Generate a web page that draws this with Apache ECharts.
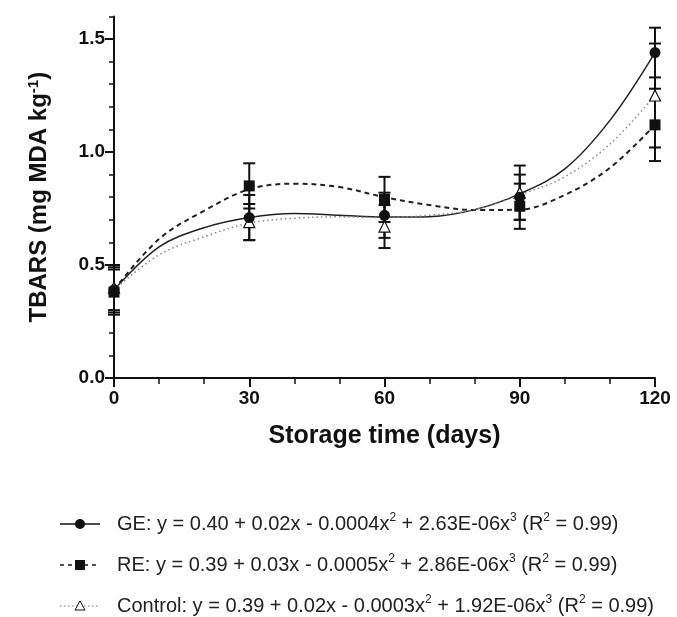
<!DOCTYPE html>
<html>
<head>
<meta charset="utf-8">
<script src="https://cdn.jsdelivr.net/npm/echarts@6/dist/echarts.min.js"></script>
<style>html,body{margin:0;padding:0;background:#fff}#c{width:677px;height:617px}</style>
</head>
<body>
<div id="c"></div>
<script>
// Measured days
const days = [0, 30, 60, 90, 120];
// Means and error-bar half-widths
const geMean = [0.39, 0.71, 0.72, 0.80, 1.44];
const geErr  = [0.10, 0.10, 0.10, 0.10, 0.11];
const reMean = [0.38, 0.85, 0.79, 0.76, 1.12];
const reErr  = [0.10, 0.10, 0.10, 0.10, 0.16];
const ctMean = [0.40, 0.69, 0.67, 0.82, 1.25];
const ctErr  = [0.10, 0.08, 0.095, 0.12, 0.23];
// Fitted curves, every 10 days
const curveDays = [0, 10, 20, 30, 40, 50, 60, 70, 80, 90, 100, 110, 120];
const geCurve = [0.39, 0.58, 0.665, 0.71, 0.728, 0.72, 0.712, 0.714, 0.745, 0.815, 0.925, 1.14, 1.44];
const reCurve = [0.39, 0.615, 0.74, 0.835, 0.86, 0.845, 0.80, 0.765, 0.743, 0.745, 0.81, 0.93, 1.12];
const ctCurve = [0.39, 0.545, 0.625, 0.685, 0.707, 0.713, 0.71, 0.72, 0.745, 0.81, 0.89, 1.035, 1.25];
// Axis ticks
const xMajor = [0, 30, 60, 90, 120];
const yMajor = [0, 0.5, 1.0, 1.5];

const pair = (xs, ys) => xs.map((x, i) => [x, ys[i]]);
const triple = (xs, ys, es) => xs.map((x, i) => [x, ys[i], es[i]]);

const ink = '#111';
function renderErr(params, api) {
  const x = api.value(0), y = api.value(1), e = api.value(2);
  const t = api.coord([x, y + e]), b = api.coord([x, y - e]);
  const hw = 6;
  const st = { stroke: ink, lineWidth: 2 };
  return { type: 'group', children: [
    { type: 'line', shape: { x1: t[0], y1: t[1], x2: b[0], y2: b[1] }, style: st },
    { type: 'line', shape: { x1: t[0] - hw, y1: t[1], x2: t[0] + hw, y2: t[1] }, style: st },
    { type: 'line', shape: { x1: b[0] - hw, y1: b[1], x2: b[0] + hw, y2: b[1] }, style: st }
  ]};
}

const font = '"Liberation Sans", Arial, sans-serif';
const chart = echarts.init(document.getElementById('c'), null, { renderer: 'canvas' });

const legendRows = [
  { y: 524, line: { color: '#111', w: 1.5, dash: null }, sym: 'circle',
    text: ['GE: y = 0.40 + 0.02x - 0.0004x', '2', ' + 2.63E-06x', '3', ' (R', '2', ' = 0.99)'] },
  { y: 565, line: { color: '#111', w: 1.5, dash: [4, 4] }, sym: 'rect',
    text: ['RE: y = 0.39 + 0.03x - 0.0005x', '2', ' + 2.86E-06x', '3', ' (R', '2', ' = 0.99)'] },
  { y: 606, line: { color: '#777', w: 1.2, dash: [1.5, 2.5] }, sym: 'triangle',
    text: ['Control: y = 0.39 + 0.02x - 0.0003x', '2', ' + 1.92E-06x', '3', ' (R', '2', ' = 0.99)'] }
];
function richText(parts) {
  return parts.map((p, i) => i % 2 === 1 ? '{s|' + p + '}' : '{n|' + p + '}').join('');
}
const graphics = [];
legendRows.forEach(r => {
  graphics.push({ type: 'line', shape: { x1: 60, y1: r.y, x2: 100, y2: r.y },
    style: { stroke: r.line.color, lineWidth: r.line.w, lineDash: r.line.dash } });
  if (r.sym === 'circle') graphics.push({ type: 'circle', shape: { cx: 80, cy: r.y, r: 5 }, style: { fill: '#111' } });
  if (r.sym === 'rect') graphics.push({ type: 'rect', shape: { x: 75, y: r.y - 5, width: 10, height: 10 }, style: { fill: '#111' } });
  if (r.sym === 'triangle') graphics.push({ type: 'polygon', shape: { points: [[80, r.y - 5], [75, r.y + 4], [85, r.y + 4]] }, style: { fill: '#fff', stroke: '#111', lineWidth: 1 } });
  graphics.push({ type: 'text', x: 117, y: r.y, style: {
    text: richText(r.text), verticalAlign: 'middle', align: 'left',
    rich: {
      n: { fontFamily: font, fontSize: 20, fill: '#222', height: 24, lineHeight: 24 },
      s: { fontFamily: font, fontSize: 12, fill: '#222', verticalAlign: 'top', padding: [0, 0, 10, 0] }
    }
  }});
});

chart.setOption({
  animation: false,
  backgroundColor: '#fff',
  grid: { left: 114, right: 22, top: 16.4, bottom: 239, containLabel: false },
  xAxis: [{
    type: 'value', min: 0, max: 120, interval: 30,
    name: 'Storage time (days)', nameLocation: 'middle', nameGap: 46,
    nameTextStyle: { fontFamily: font, fontWeight: 'bold', fontSize: 25, color: '#111' },
    axisLine: { show: true, lineStyle: { color: ink, width: 2 } },
    axisTick: { show: true, inside: false, length: 9, lineStyle: { color: ink, width: 2 } },
    minorTick: { show: true, splitNumber: 3, length: 6, lineStyle: { color: ink, width: 1.5 } },
    axisLabel: { fontFamily: font, fontWeight: 'bold', fontSize: 19, color: '#111', margin: 11 },
    splitLine: { show: false }
  }],
  yAxis: [{
    type: 'value', min: 0, max: 1.6, interval: 0.1,
    name: '{a|TBARS (mg MDA kg}{b|-1}{a|)}', nameLocation: 'middle', nameGap: 61, nameRotate: 90,
    nameTextStyle: { rich: {
      a: { fontFamily: font, fontWeight: 'bold', fontSize: 24, color: '#111' },
      b: { fontFamily: font, fontWeight: 'bold', fontSize: 15, color: '#111', verticalAlign: 'top', padding: [0, 0, 12, 0] }
    } },
    axisLine: { show: true, lineStyle: { color: ink, width: 2 } },
    axisTick: { show: true, inside: false, length: 5, lineStyle: { color: ink, width: 1.5 } },
    axisLabel: { fontFamily: font, fontWeight: 'bold', fontSize: 19, color: '#111', margin: 9,
      formatter: v => yMajor.some(m => Math.abs(m - v) < 1e-6) ? v.toFixed(1) : '' },
    splitLine: { show: false }
  }, {
    type: 'value', min: 0, max: 1.6, position: 'left',
    axisLine: { show: false },
    axisTick: { show: true, inside: false, length: 9, customValues: yMajor, lineStyle: { color: ink, width: 2 } },
    axisLabel: { show: false },
    splitLine: { show: false }
  }],
  graphic: graphics,
  series: [
    { type: 'line', name: 'GE fit', data: pair(curveDays, geCurve), smooth: 0.35, showSymbol: false, silent: true,
      lineStyle: { color: '#222', width: 1.5 }, z: 2 },
    { type: 'line', name: 'RE fit', data: pair(curveDays, reCurve), smooth: 0.35, showSymbol: false, silent: true,
      lineStyle: { color: '#222', width: 2, type: [5, 4] }, z: 2 },
    { type: 'line', name: 'Control fit', data: pair(curveDays, ctCurve), smooth: 0.35, showSymbol: false, silent: true,
      lineStyle: { color: '#888', width: 1.5, type: [1.5, 3] }, z: 2 },
    { type: 'custom', name: 'GE err', renderItem: renderErr, data: triple(days, geMean, geErr), z: 3 },
    { type: 'custom', name: 'RE err', renderItem: renderErr, data: triple(days, reMean, reErr), z: 3 },
    { type: 'custom', name: 'Control err', renderItem: renderErr, data: triple(days, ctMean, ctErr), z: 3 },
    { type: 'scatter', name: 'Control', data: pair(days, ctMean), symbol: 'triangle', symbolSize: 11,
      itemStyle: { color: '#fff', borderColor: '#111', borderWidth: 1.2, opacity: 1 }, z: 4 },
    { type: 'scatter', name: 'RE', data: pair(days, reMean), symbol: 'rect', symbolSize: 11,
      itemStyle: { color: '#111', opacity: 1 }, z: 5 },
    { type: 'scatter', name: 'GE', data: pair(days, geMean), symbol: 'circle', symbolSize: 11,
      itemStyle: { color: '#111', opacity: 1 }, z: 6 }
  ]
});
</script>
</body>
</html>
